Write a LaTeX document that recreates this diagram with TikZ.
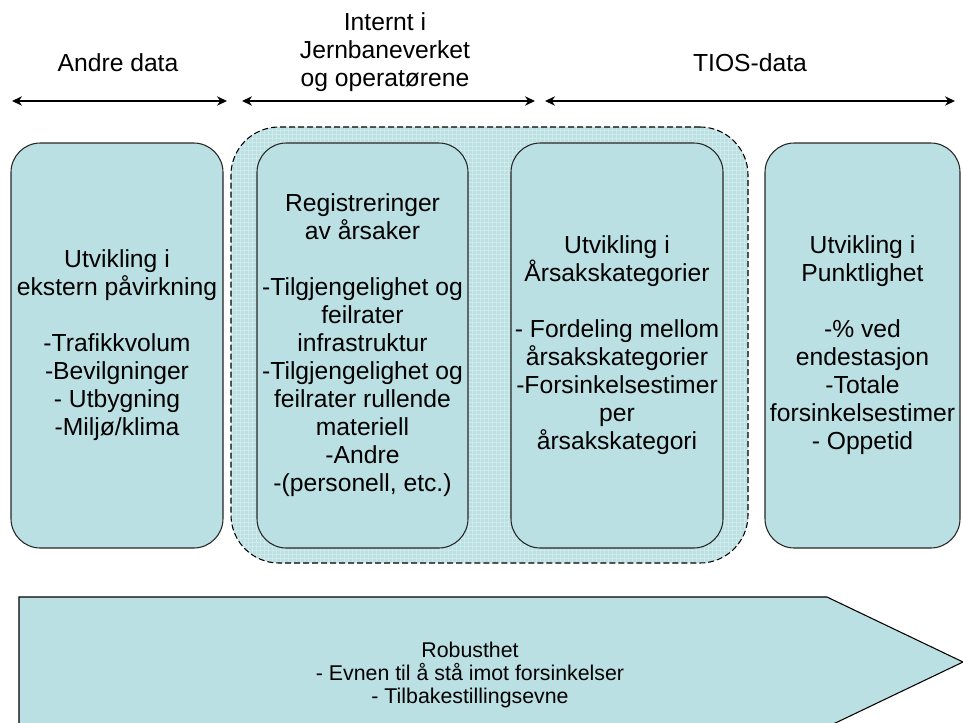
\documentclass[tikz,border=0pt]{standalone}
\usepackage{fontspec}
\setmainfont{Liberation Sans}
\usepackage{tikz}
\usetikzlibrary{arrows.meta, patterns}

\definecolor{boxcyan}{RGB}{187,224,227}
\definecolor{gridcyan}{RGB}{208,234,236}

\begin{document}
\begin{tikzpicture}[
            x = 0.75pt, y = -0.75pt, % pixel grid, y goes down
            > = {Stealth[length = 7.5pt, width = 7pt]}, % arrow head style
            font = \fontsize{18.5}{21}\selectfont,
            semithick % line style
        ]

        \tikzstyle{box}=[
            draw = black!85,
            line width = 0.8pt,
            fill = boxcyan,
            rounded corners = 22pt,
            align = center,
            minimum height = 303.75pt,
            inner sep = 0pt
        ]
        \tikzstyle{group}=[
            draw = black,
            line width = 0.8pt,
            dash pattern = on 4.5pt off 2.25pt,
            preaction = {fill = boxcyan},
            pattern = grid,
            pattern color = gridcyan,
            rounded corners = 36pt,
            minimum width = 387.75pt,
            minimum height = 327pt,
            inner sep = 0pt
        ]
        \tikzstyle{span}=[<->, line width = 1.6pt]

        \useasboundingbox (0,0) rectangle (963,722);

        % headings and their spans
        \node[align = center] (andre) at (118,63) {Andre data};
        \node[align = center] (internt) at (385,52) {Internt i\\Jernbaneverket\\og operatørene};
        \node[align = center] (tios) at (750,63) {TIOS-data};

        \coordinate (s1) at (12,101);
        \coordinate (e1) at (227,101);
        \coordinate (s2) at (242,101);
        \coordinate (e2) at (535,101);
        \coordinate (s3) at (545,101);
        \coordinate (e3) at (955,101);

        \draw[span] (s1) -- (e1);
        \draw[span] (s2) -- (e2);
        \draw[span] (s3) -- (e3);

        % dashed group round the two inner boxes
        \node[group] (intern) at (489.5,345) {};

        \node[box, minimum width = 159pt] (ekstern) at (117,345.5)
            {Utvikling i\\ekstern påvirkning\\[\baselineskip]-Trafikkvolum\\-Bevilgninger\\- Utbygning\\-Miljø/klima};
        \node[box, minimum width = 158.25pt] (reg) at (362.5,345.5)
            {Registreringer\\av årsaker\\[\baselineskip]-Tilgjengelighet og\\feilrater\\infrastruktur\\-Tilgjengelighet og\\feilrater rullende\\materiell\\-Andre\\-(personell, etc.)};
        \node[box, minimum width = 159pt] (aarsak) at (617,345.5)
            {Utvikling i\\Årsakskategorier\\[\baselineskip]- Fordeling mellom\\årsakskategorier\\-Forsinkelsestimer\\per\\årsakskategori};
        \node[box, minimum width = 146.25pt] (punkt) at (862.5,345.5)
            {Utvikling i\\Punktlighet\\[\baselineskip]-\% ved\\endestasjon\\-Totale\\forsinkelsestimer\\- Oppetid};

        % big arrow at the bottom
        \draw[line width = 0.8pt, fill = boxcyan]
            (19,597) -- (827,597) -- (963,662) -- (827,727) -- (19,727) -- cycle;
        \node[align = center, font = \fontsize{16}{17}\selectfont] (robust) at (470,675)
            {Robusthet\\- Evnen til å stå imot forsinkelser\\- Tilbakestillingsevne};

  \end{tikzpicture}
\end{document}
